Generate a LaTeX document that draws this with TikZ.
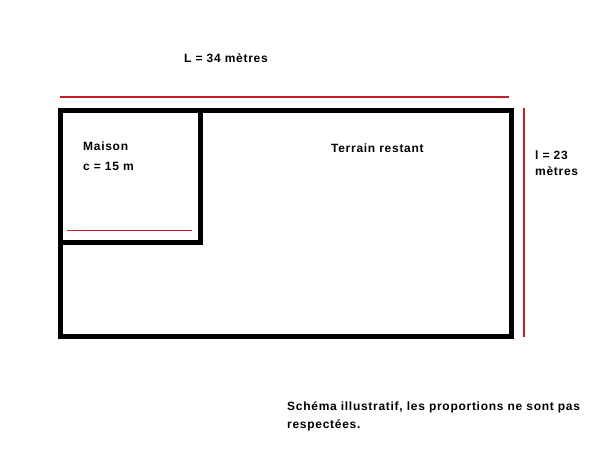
\documentclass[tikz,border=0pt]{standalone}
\usepackage{fontspec}
\setmainfont{Liberation Sans}

\begin{document}
\begin{tikzpicture}[x=1pt,y=-1pt,
  label/.style={font=\fontsize{12}{#1}\selectfont\bfseries\addfontfeature{LetterSpace=6}, inner sep=0pt, anchor=base west, align=left},
  label/.default=18,
  wall/.style={line width=5pt, line join=miter},
  cote/.style={color={rgb,255:red,200;green,30;blue,40}, line width=1.1pt}]
\useasboundingbox (0,0) rectangle (608,456);
\coordinate (A) at (60.5,110.5);  %%TopLeft
\coordinate (B) at (511,336);     %%BottomRight
\coordinate (M) at (200.5,242.5); %%Maison corner
\draw[wall] (A) rectangle (B);
\draw[wall] (M |- A) -- (M) -- (A |- M);
\draw[cote] (60,97) -- (509,97);       %%Longueur
\draw[cote] (524,108) -- (524,337);    %%Largeur
\draw[cote] (67,230.5) -- (192,230.5); %%Cote maison
\node[label] (longueur) at (184,62) {L = 34 mètres};
\node[label=20] (maison) at (83,170) {Maison\\c = 15 m};
\node[label] (terrain) at (331,152) {Terrain restant};
\node[label=16] (largeur) at (535,175) {l = 23\\mètres};
\node[label] (note) at (287,428) {Schéma illustratif, les proportions ne sont pas\\respectées.};
\end{tikzpicture}
\end{document}
